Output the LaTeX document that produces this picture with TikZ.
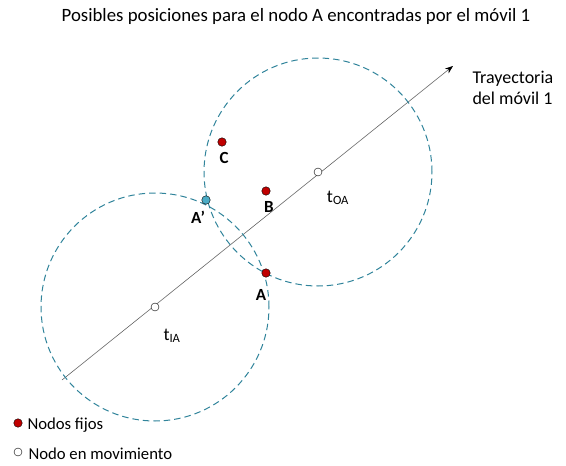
\documentclass[tikz,border=0pt]{standalone}
\usepackage{fontspec}
\setmainfont{Carlito}
\usetikzlibrary{arrows.meta}
\definecolor{fijo}{RGB}{192,0,0}
\definecolor{movil}{RGB}{75,172,198}
\definecolor{rango}{RGB}{49,132,155}
\begin{document}
\begin{tikzpicture}[x=1pt,y=-1pt,font=\fontsize{18}{21}\selectfont]
	\tikzset{fixed/.style = {shape=circle,draw,fill=fijo,minimum size=8.5pt,inner sep=0pt}}
	\tikzset{moving/.style = {shape=circle,draw,fill=white,minimum size=8pt,inner sep=0pt}}
	\tikzset{ghost/.style = {shape=circle,draw,fill=movil,minimum size=8.5pt,inner sep=0pt}}
	\tikzset{coverage/.style = {rango,dash pattern=on 6.5pt off 4pt,line width=1pt}}
	\tikzset{lbl/.style = {font=\fontsize{17}{20}\selectfont\bfseries}}
	\tikzset{legend/.style = {anchor=west,font=\fontsize{16.7}{20}\selectfont}}
	\useasboundingbox (0,0) rectangle (566,466);
	% Title
	\node[font=\fontsize{18.8}{22}\selectfont] (title) at (296,16) {Posibles posiciones para el nodo A encontradas por el móvil 1};
	% Trajectory
	\coordinate (start) at (62,380);
	\coordinate (end) at (453,66);
	\draw[gray!80!black,line width=0.6pt,-{Stealth[length=8pt,width=6pt,black]}] (start) -- (end);
	\node[align=left,anchor=west] (tray) at (469,88) {Trayectoria\\del móvil 1};
	% Ranges
	\coordinate (cIA) at (155,307);
	\coordinate (cOA) at (318,172);
	\draw[coverage] (cIA) circle (114pt);
	\draw[coverage] (cOA) circle (114pt);
	% Moving node positions
	\node[moving] (tIA) at (cIA) {};
	\node[moving] (tOA) at (cOA) {};
	\node (tIAlbl) at (172,336) {t\textsubscript{IA}};
	\node (tOAlbl) at (338,198) {t\textsubscript{OA}};
	% Fixed nodes
	\node[fixed] (C) at (222,142) {};
	\node[fixed] (B) at (266,191) {};
	\node[fixed] (A) at (266,273) {};
	\node[ghost] (Ap) at (206,200) {};
	\node[lbl] (Clbl) at (224,158) {C};
	\node[lbl] (Blbl) at (269,207) {B};
	\node[lbl] (Albl) at (261,295) {A};
	\node[lbl] (Aplbl) at (198,217) {A’};
	% Legend
	\node[fixed] (legfix) at (18,423) {};
	\node[moving] (legmov) at (18,452) {};
	\node[legend] (legfixtxt) at (24,425) {Nodos fijos};
	\node[legend] (legmovtxt) at (25,454) {Nodo en movimiento};
\end{tikzpicture}
\end{document}
